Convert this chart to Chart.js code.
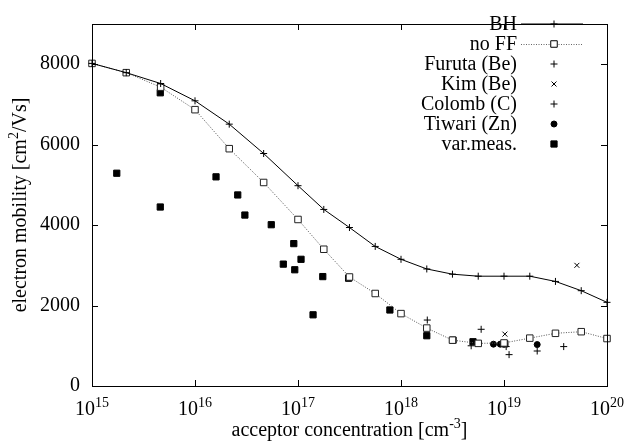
<!DOCTYPE html>
<html>
<head>
<meta charset="utf-8">
<script src="https://cdn.jsdelivr.net/npm/chart.js@4/dist/chart.umd.min.js"></script>
<style>
  body { margin: 0; background: #fff; }
  canvas { display: block; }
</style>
</head>
<body>
<canvas id="mobility-chart" width="628" height="443"></canvas>
<script>
// model curves (acceptor concentration in cm^-3, mobility in cm^2/Vs)
var modelConc = [1e15, 2.15e15, 4.64e15, 1e16, 2.15e16, 4.64e16, 1e17, 1.78e17, 3.16e17, 5.62e17,
                 1e18, 1.78e18, 3.16e18, 5.62e18, 1e19, 1.78e19, 3.16e19, 5.62e19, 1e20];
var bhMobility = [8020, 7790, 7520, 7090, 6510, 5780, 4980, 4390, 3940, 3470,
                  3150, 2910, 2780, 2730, 2730, 2730, 2600, 2370, 2080];
var noFFMobility = [8020, 7790, 7430, 6870, 5900, 5060, 4140, 3400, 2710, 2300,
                    1800, 1440, 1140, 1060, 1070, 1190, 1310, 1350, 1180];

// measurements
var furutaConc = [1.8e18, 6e18, 4.8e18, 1.05e19, 1.12e19];
var furutaMob = [1640, 1410, 1000, 980, 780];
var kimConc = [1.02e19, 5.1e19];
var kimMob = [1290, 3000];
var colombConc = [2.1e19, 3.8e19];
var colombMob = [870, 980];
var tiwariConc = [7.9e18, 9.2e18, 1e19, 2.1e19];
var tiwariMob = [1040, 1040, 1040, 1030];
var varConc = [1.74e15, 4.6e15, 4.6e15, 1.6e16, 2.6e16, 3.05e16, 5.5e16, 9.1e16, 7.2e16, 9.3e16,
               1.07e17, 1.4e17, 1.74e17, 3.1e17, 7.8e17, 1.78e18, 3.2e18, 5e18, 1.02e19];
var varMob = [5290, 7290, 4450, 5200, 4750, 4250, 4010, 3540, 3030, 2890,
              3150, 1770, 2720, 2680, 1890, 1250, 1140, 1100, 1050];

var xTicks = [1e15, 1e16, 1e17, 1e18, 1e19, 1e20];
var xTickExp = ['15', '16', '17', '18', '19', '20'];
var yTicks = [0, 2000, 4000, 6000, 8000];

var FONT = "'Liberation Serif', 'Times New Roman', serif";
var FS = 20;
Chart.defaults.font.family = FONT;
Chart.defaults.color = '#000';

function pts(xs, ys) {
    return xs.map(function (x, i) { return { x: x, y: ys[i] }; });
}

// text with superscript pieces
function richText(ctx, parts, x, y, size, align) {
    var supSize = Math.round(size * 0.72);
    var w = 0;
    parts.forEach(function (p) {
        ctx.font = (p.sup ? supSize : size) + 'px ' + FONT;
        p.w = ctx.measureText(p.t).width;
        w += p.w;
    });
    var cx = align === 'center' ? x - w / 2 : x;
    ctx.textAlign = 'left';
    ctx.textBaseline = 'alphabetic';
    parts.forEach(function (p) {
        ctx.font = (p.sup ? supSize : size) + 'px ' + FONT;
        ctx.fillText(p.t, cx, p.sup ? y - size * 0.42 : y);
        cx += p.w;
    });
}

var legendItems = [
    { label: 'BH', line: 'solid', style: 'cross', r: 3.5, fill: '#000' },
    { label: 'no FF', line: 'dotted', style: 'rect', r: 4.6, fill: '#fff' },
    { label: 'Furuta (Be)', style: 'cross', r: 3.5, fill: '#000' },
    { label: 'Kim (Be)', style: 'crossRot', r: 3.5, fill: '#000' },
    { label: 'Colomb (C)', style: 'cross', r: 3.5, fill: '#000' },
    { label: 'Tiwari (Zn)', style: 'circle', r: 3, fill: '#000' },
    { label: 'var.meas.', style: 'rect', r: 4.4, fill: '#000' }
];

var gnuplotFrame = {
    id: 'gnuplotFrame',
    afterDraw: function (chart) {
        var ctx = chart.ctx, a = chart.chartArea;
        var xs = chart.scales.x, ys = chart.scales.y;
        ctx.save();
        ctx.strokeStyle = '#000';
        ctx.lineWidth = 1;
        ctx.strokeRect(a.left + 0.5, a.top + 0.5, a.right - a.left, a.bottom - a.top);
        ctx.beginPath();
        xTicks.forEach(function (v) {
            var px = Math.round(xs.getPixelForValue(v)) + 0.5;
            ctx.moveTo(px, a.bottom); ctx.lineTo(px, a.bottom - 6);
            ctx.moveTo(px, a.top); ctx.lineTo(px, a.top + 6);
        });
        yTicks.forEach(function (v) {
            var py = Math.round(ys.getPixelForValue(v)) + 0.5;
            ctx.moveTo(a.left, py); ctx.lineTo(a.left + 6, py);
            ctx.moveTo(a.right, py); ctx.lineTo(a.right - 6, py);
        });
        ctx.stroke();

        // legend, gnuplot style: text right aligned, sample on the right
        legendItems.forEach(function (it, i) {
            var y = 24 + i * 20;
            if (it.line === 'solid') {
                ctx.fillStyle = '#000';
                ctx.fillRect(521, y - 0.5, 62, 1.5);
            } else if (it.line === 'dotted') {
                ctx.fillStyle = '#666';
                for (var d = 521; d < 583; d += 2.5) ctx.fillRect(d, y, 1, 1);
            }
            ctx.font = FS + 'px ' + FONT;
            ctx.textAlign = 'right';
            ctx.textBaseline = 'middle';
            ctx.fillStyle = '#000';
            ctx.fillText(it.label, 517, y + 1);
            ctx.fillStyle = it.fill;
            ctx.strokeStyle = '#000';
            ctx.lineWidth = 1;
            Chart.helpers.drawPoint(ctx, { pointStyle: it.style, radius: it.r, rotation: 0, borderWidth: 1 }, 554, y);
        });

        ctx.fillStyle = '#000';
        xTicks.forEach(function (v, i) {
            richText(ctx, [{ t: '10' }, { t: xTickExp[i], sup: true }],
                xs.getPixelForValue(v), 415, FS, 'center');
        });
        richText(ctx, [{ t: 'acceptor concentration [cm' }, { t: '-3', sup: true }, { t: ']' }],
            (a.left + a.right) / 2, 436, FS, 'center');
        ctx.save();
        ctx.translate(26, (a.top + a.bottom) / 2);
        ctx.rotate(-Math.PI / 2);
        richText(ctx, [{ t: 'electron mobility [cm' }, { t: '2', sup: true }, { t: '/Vs]' }],
            0, 0, FS, 'center');
        ctx.restore();
        ctx.restore();
    }
};

function scatterSet(label, xs, ys, style, r) {
    return {
        label: label,
        data: pts(xs, ys),
        showLine: false,
        pointStyle: style,
        pointRadius: r,
        pointBorderWidth: 1,
        pointBorderColor: '#000',
        pointBackgroundColor: '#000',
        clip: false
    };
}

new Chart(document.getElementById('mobility-chart'), {
    type: 'line',
    data: {
        datasets: [{
            label: 'BH',
            data: pts(modelConc, bhMobility),
            borderColor: '#000',
            borderWidth: 1,
            pointStyle: 'cross',
            pointRadius: 3.5,
            pointBorderColor: '#000',
            pointBorderWidth: 1,
            tension: 0,
            clip: false
        }, {
            label: 'no FF',
            data: pts(modelConc, noFFMobility),
            borderColor: '#555',
            borderWidth: 1,
            borderDash: [1, 1.5],
            pointStyle: 'rect',
            pointRadius: 4.6,
            pointBorderColor: '#222',
            pointBackgroundColor: '#fff',
            pointBorderWidth: 1,
            tension: 0,
            clip: false
        },
        scatterSet('Furuta (Be)', furutaConc, furutaMob, 'cross', 3.5),
        scatterSet('Kim (Be)', kimConc, kimMob, 'crossRot', 3.5),
        scatterSet('Colomb (C)', colombConc, colombMob, 'cross', 3.5),
        scatterSet('Tiwari (Zn)', tiwariConc, tiwariMob, 'circle', 3),
        scatterSet('var.meas.', varConc, varMob, 'rect', 4.4)]
    },
    options: {
        responsive: false,
        animation: false,
        devicePixelRatio: 1,
        layout: { padding: { top: 8, right: 21, left: 0, bottom: 0 } },
        plugins: {
            legend: { display: false },
            tooltip: { enabled: false }
        },
        scales: {
            x: {
                type: 'logarithmic',
                min: 1e15,
                max: 1e20,
                grid: { display: false },
                border: { display: false },
                ticks: { display: false },
                afterBuildTicks: function (s) { s.ticks = xTicks.map(function (v) { return { value: v }; }); },
                afterFit: function (s) { s.height = 57; }
            },
            y: {
                min: 0,
                max: 9000,
                grid: { display: false, drawTicks: false },
                border: { display: false },
                ticks: {
                    padding: 12,
                    font: { size: FS },
                    color: '#000',
                    callback: function (v) { return String(v); }
                },
                afterBuildTicks: function (s) { s.ticks = yTicks.map(function (v) { return { value: v }; }); },
                afterFit: function (s) { s.width = 92; }
            }
        }
    },
    plugins: [gnuplotFrame]
});
</script>
</body>
</html>
